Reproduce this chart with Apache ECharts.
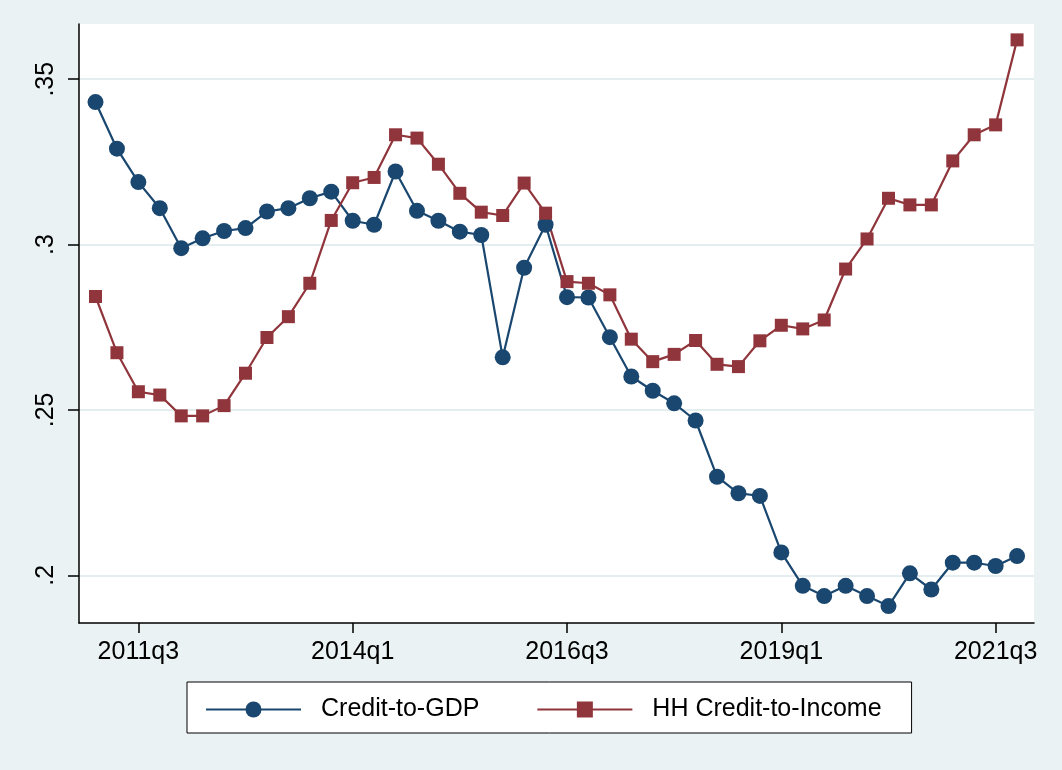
<!DOCTYPE html>
<html>
<head>
<meta charset="utf-8">
<script src="https://cdn.jsdelivr.net/npm/echarts@6/dist/echarts.min.js"></script>
<style>
  html, body { margin: 0; padding: 0; background: #eaf2f3; }
  #echarts { width: 1062px; height: 770px; }
</style>
</head>
<body>
<div id="echarts"></div>
<script>
var quarters = [
  '2011q1','2011q2','2011q3','2011q4','2012q1','2012q2','2012q3','2012q4',
  '2013q1','2013q2','2013q3','2013q4','2014q1','2014q2','2014q3','2014q4',
  '2015q1','2015q2','2015q3','2015q4','2016q1','2016q2','2016q3','2016q4',
  '2017q1','2017q2','2017q3','2017q4','2018q1','2018q2','2018q3','2018q4',
  '2019q1','2019q2','2019q3','2019q4','2020q1','2020q2','2020q3','2020q4',
  '2021q1','2021q2','2021q3','2021q4'
];
var creditGDP = [
  0.3431, 0.3290, 0.3189, 0.3110, 0.2989, 0.3019, 0.3041, 0.3050,
  0.3100, 0.3110, 0.3140, 0.3160, 0.3072, 0.3060, 0.3221, 0.3102,
  0.3072, 0.3039, 0.3029, 0.2659, 0.2930, 0.3060, 0.2841, 0.2840,
  0.2720, 0.2601, 0.2558, 0.2520, 0.2468, 0.2298, 0.2248, 0.2240,
  0.2069, 0.1968, 0.1937, 0.1968, 0.1937, 0.1907, 0.2006, 0.1957,
  0.2038, 0.2038, 0.2028, 0.2058
];
var hhCreditIncome = [
  0.2843, 0.2673, 0.2555, 0.2545, 0.2482, 0.2482, 0.2513, 0.2611,
  0.2719, 0.2782, 0.2883, 0.3073, 0.3187, 0.3203, 0.3332, 0.3322,
  0.3243, 0.3155, 0.3098, 0.3088, 0.3186, 0.3095, 0.2888, 0.2883,
  0.2848, 0.2714, 0.2646, 0.2668, 0.2710, 0.2638, 0.2631, 0.2709,
  0.2756, 0.2745, 0.2772, 0.2926, 0.3017, 0.3140, 0.3120, 0.3120,
  0.3253, 0.3332, 0.3362, 0.3619
];
var xTickLabels = ['2011q3', '2014q1', '2016q3', '2019q1', '2021q3'];
var yTickValues = [0.2, 0.25, 0.3, 0.35];
var yTickLabels = ['.2', '.25', '.3', '.35'];

var myChart = echarts.init(document.getElementById('echarts'));

// index of each quarter on the x axis
function pairs(values) {
  return values.map(function (v, i) { return [i, v]; });
}
var xTickIdx = xTickLabels.map(function (l) { return quarters.indexOf(l); });

var fontFam = '"Liberation Sans", Arial, Helvetica, sans-serif';
var navy = '#1a476f';
var maroon = '#90353b';

option = {
  backgroundColor: '#eaf2f3',
  animation: false,
  grid: {
    left: 79,
    right: 28,
    top: 24,
    bottom: 147,
    show: true,
    backgroundColor: '#ffffff',
    borderWidth: 0
  },
  xAxis: {
    type: 'value',
    min: -0.77,
    max: 43.79,
    axisLine: { show: true, onZero: false, lineStyle: { color: '#000', width: 1.5 } },
    axisTick: { show: true, length: 10, lineStyle: { color: '#000', width: 1.5 }, customValues: xTickIdx },
    axisLabel: {
      customValues: xTickIdx,
      margin: 17,
      color: '#000',
      fontSize: 25,
      fontFamily: fontFam,
      formatter: function (v) { return quarters[Math.round(v)]; }
    },
    splitLine: { show: false }
  },
  yAxis: {
    type: 'value',
    min: 0.18557,
    max: 0.3667,
    axisLine: { show: true, onZero: false, lineStyle: { color: '#000', width: 1.5 } },
    axisTick: { show: true, length: 11, lineStyle: { color: '#000', width: 1.5 }, customValues: yTickValues },
    axisLabel: {
      customValues: yTickValues,
      rotate: 90,
      margin: 20,
      color: '#000',
      fontSize: 25,
      fontFamily: fontFam,
      formatter: function (v) {
        var k = yTickValues.findIndex(function (t) { return Math.abs(t - v) < 1e-6; });
        return k >= 0 ? yTickLabels[k] : '';
      }
    },
    splitLine: { show: true, lineStyle: { color: '#e4eef0', width: 2 } }
  },
  legend: {
    left: 187,
    top: 682,
    padding: [15, 30, 11, 18],
    backgroundColor: '#ffffff',
    borderColor: '#000',
    borderWidth: 1,
    itemWidth: 95,
    itemHeight: 20,
    itemGap: 57,
    textStyle: { color: '#000', fontSize: 25, fontFamily: fontFam, padding: [0, 0, 0, 15] },
    data: ['Credit-to-GDP', 'HH Credit-to-Income']
  },
  series: [
    {
      name: 'Credit-to-GDP',
      type: 'line',
      data: pairs(creditGDP),
      symbol: 'circle',
      symbolSize: 16,
      itemStyle: { color: navy },
      lineStyle: { color: navy, width: 2.2 }
    },
    {
      name: 'HH Credit-to-Income',
      type: 'line',
      data: pairs(hhCreditIncome),
      symbol: 'rect',
      symbolSize: 13,
      itemStyle: { color: maroon },
      lineStyle: { color: maroon, width: 2.2 }
    }
  ]
};
myChart.setOption(option);
</script>
</body>
</html>
